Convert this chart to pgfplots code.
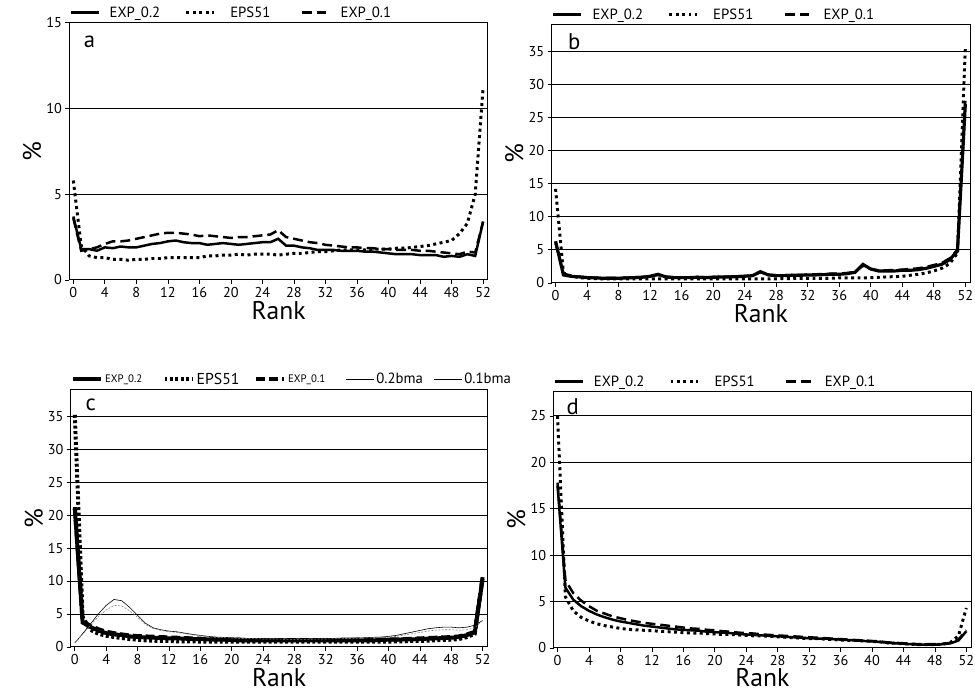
\documentclass[border=0pt]{standalone}
\usepackage{pgfplots}
\pgfplotsset{compat=1.18}
\usepackage{fontspec}
\setmainfont{PT Sans}
\begin{document}
\tikzset{
  sol/.style={black, solid, line width=2.5bp},
  dot/.style={black, line width=3bp, dash pattern=on 3bp off 3.5bp},
  das/.style={black, line width=2.5bp, dash pattern=on 10bp off 5bp},
}
\newcommand{\legA}[1]{\makebox[74bp][l]{#1}}
\newcommand{\legC}[1]{\makebox[56bp][l]{#1}}
\pgfplotsset{
  panel/.style={
    scale only axis, xmin=-0.5, xmax=52.6, ymin=0,
    xtick={0,4,...,52}, tick pos=left, tick align=outside,
    major tick length=4bp,
    ymajorgrids, grid style={black, line width=0.9pt},
    axis line style={black, line width=0.9pt},
    tick style={black, line width=0.7pt},
    /pgf/number format/assume math mode=true,
    ticklabel style={font=\fontsize{14.5}{14.5}\selectfont},
    xlabel=Rank, ylabel=\%,
    label style={font=\fontsize{26}{26}\selectfont, inner sep=0pt},
    xlabel style={at={(axis description cs:0.5,-0.117)}, anchor=center},
    ylabel style={at={(axis description cs:-0.089,0.5)}, anchor=center},
    legend style={at={(axis description cs:0,1)}, anchor=south west, yshift=2bp,
      draw=none, fill=none, inner sep=0pt, font=\fontsize{15}{15}\selectfont,
      legend columns=-1,
      /tikz/every odd column/.append style={column sep=8bp},
      /tikz/every even column/.append style={column sep=0bp}},
    legend image code/.code={\draw[#1] (0bp,0bp) -- (28bp,0bp);},
  },
}
\begin{tikzpicture}
% ---------- a ----------
\begin{axis}[panel, at={(59.5bp,418bp)}, width=423bp, height=260bp, ymax=15, ytick={0,5,10,15}]
\addplot[sol] coordinates {(0,3.7)(1,1.8)(2,1.8)(3,1.7)(4,1.9)(5,1.85)(6,1.95)(7,1.9)(8,1.9)(9,2.0)(10,2.1)(11,2.15)(12,2.25)(13,2.3)(14,2.2)(15,2.15)(16,2.15)(17,2.05)(18,2.1)(19,2.15)(20,2.1)(21,2.05)(22,2.1)(23,2.15)(24,2.2)(25,2.2)(26,2.4)(27,2.0)(28,2.0)(29,1.9)(30,1.85)(31,1.75)(32,1.75)(33,1.75)(34,1.7)(35,1.7)(36,1.7)(37,1.65)(38,1.65)(39,1.6)(40,1.55)(41,1.5)(42,1.5)(43,1.5)(44,1.45)(45,1.45)(46,1.45)(47,1.35)(48,1.4)(49,1.35)(50,1.5)(51,1.4)(52,3.4)};
\addlegendentry{\legA{EXP\_0.2}}
\addplot[dot] coordinates {(0,5.8)(1,2.0)(2,1.4)(3,1.3)(4,1.3)(5,1.2)(6,1.2)(7,1.15)(8,1.2)(9,1.2)(10,1.25)(11,1.25)(12,1.3)(13,1.3)(14,1.3)(15,1.3)(16,1.3)(17,1.4)(18,1.4)(19,1.45)(20,1.45)(21,1.5)(22,1.45)(23,1.5)(24,1.5)(25,1.5)(26,1.45)(27,1.5)(28,1.55)(29,1.55)(30,1.6)(31,1.65)(32,1.65)(33,1.7)(34,1.75)(35,1.75)(36,1.75)(37,1.75)(38,1.8)(39,1.8)(40,1.8)(41,1.85)(42,1.85)(43,1.9)(44,1.95)(45,2.0)(46,2.1)(47,2.2)(48,2.3)(49,2.7)(50,3.3)(51,5.0)(52,11.2)};
\addlegendentry{\legA{\hspace{5bp}EPS51}}
\addplot[das] coordinates {(0,3.6)(1,1.7)(2,1.8)(3,1.9)(4,2.1)(5,2.25)(6,2.25)(7,2.3)(8,2.4)(9,2.5)(10,2.6)(11,2.7)(12,2.75)(13,2.75)(14,2.7)(15,2.65)(16,2.55)(17,2.6)(18,2.55)(19,2.5)(20,2.45)(21,2.5)(22,2.5)(23,2.55)(24,2.6)(25,2.65)(26,2.9)(27,2.5)(28,2.4)(29,2.3)(30,2.2)(31,2.15)(32,2.05)(33,2.0)(34,1.95)(35,1.9)(36,1.9)(37,1.85)(38,1.85)(39,1.8)(40,1.8)(41,1.75)(42,1.75)(43,1.75)(44,1.7)(45,1.7)(46,1.65)(47,1.6)(48,1.55)(49,1.5)(50,1.65)(51,1.6)(52,3.4)};
\addlegendentry{EXP\_0.1}
\node[font=\fontsize{23}{23}\selectfont] at (rel axis cs:0.048,0.927) {a};
\end{axis}
% ---------- b ----------
\begin{axis}[panel, at={(547bp,415bp)}, width=423bp, height=261bp, ymax=39, ytick={0,5,...,35}]
\addplot[sol, line width=3.2bp] coordinates {(0,6.3)(1,1.2)(2,1.0)(3,0.9)(4,0.8)(5,0.75)(6,0.7)(7,0.7)(8,0.7)(9,0.75)(10,0.8)(11,0.85)(12,1.0)(13,1.3)(14,0.9)(15,0.8)(16,0.8)(17,0.8)(18,0.85)(19,0.8)(20,0.85)(21,0.9)(22,0.9)(23,0.95)(24,1.0)(25,1.1)(26,1.7)(27,1.2)(28,1.1)(29,1.1)(30,1.15)(31,1.15)(32,1.2)(33,1.2)(34,1.25)(35,1.3)(36,1.3)(37,1.4)(38,1.6)(39,2.8)(40,2.1)(41,1.8)(42,1.8)(43,1.8)(44,1.9)(45,1.9)(46,2.0)(47,2.2)(48,2.5)(49,2.8)(50,3.5)(51,4.8)(52,27)};
\addlegendentry{\legA{EXP\_0.2}}
\addplot[dot] coordinates {(0,14.2)(1,1.5)(2,1.0)(3,0.8)(4,0.7)(5,0.65)(6,0.6)(7,0.6)(8,0.6)(9,0.6)(10,0.6)(11,0.6)(12,0.6)(13,0.6)(14,0.6)(15,0.6)(16,0.6)(17,0.6)(18,0.6)(19,0.6)(20,0.6)(21,0.6)(22,0.6)(23,0.6)(24,0.6)(25,0.6)(26,0.6)(27,0.6)(28,0.62)(29,0.64)(30,0.65)(31,0.7)(32,0.7)(33,0.7)(34,0.7)(35,0.7)(36,0.75)(37,0.75)(38,0.75)(39,0.75)(40,0.8)(41,0.85)(42,0.9)(43,0.95)(44,1.0)(45,1.15)(46,1.3)(47,1.5)(48,1.8)(49,2.2)(50,2.9)(51,4.5)(52,35.5)};
\addlegendentry{\legA{\hspace{5bp}EPS51}}
\addplot[das] coordinates {(0,6.0)(1,1.4)(2,1.1)(3,0.95)(4,0.85)(5,0.8)(6,0.75)(7,0.75)(8,0.75)(9,0.8)(10,0.85)(11,0.9)(12,1.0)(13,1.2)(14,0.95)(15,0.85)(16,0.85)(17,0.85)(18,0.9)(19,0.85)(20,0.9)(21,0.95)(22,0.95)(23,1.0)(24,1.05)(25,1.15)(26,1.6)(27,1.25)(28,1.15)(29,1.15)(30,1.2)(31,1.2)(32,1.25)(33,1.3)(34,1.35)(35,1.4)(36,1.4)(37,1.5)(38,1.65)(39,2.6)(40,2.1)(41,1.9)(42,1.9)(43,1.95)(44,2.0)(45,2.1)(46,2.2)(47,2.4)(48,2.7)(49,3.0)(50,3.7)(51,5.0)(52,27.5)};
\addlegendentry{EXP\_0.1}
\node[font=\fontsize{23}{23}\selectfont] at (rel axis cs:0.054,0.935) {b};
\end{axis}
% ---------- c ----------
\begin{axis}[panel, at={(61bp,47bp)}, width=421bp, height=260bp, ymax=39, ytick={0,5,...,35},
  legend style={/tikz/every odd column/.append style={column sep=0.5bp}, /tikz/every even column/.append style={column sep=0bp}}]
\addplot[sol, line width=4bp] coordinates {(0,21)(1,3.7)(2,3.0)(3,2.5)(4,2.1)(5,1.9)(6,1.8)(7,1.6)(8,1.5)(9,1.45)(10,1.4)(11,1.35)(12,1.3)(13,1.3)(14,1.25)(15,1.2)(16,1.2)(17,1.15)(18,1.1)(19,1.1)(20,1.05)(21,1.0)(22,1.0)(23,1.0)(24,1.0)(25,1.0)(26,1.0)(27,1.0)(28,1.0)(29,1.0)(30,1.0)(31,1.0)(32,1.0)(33,1.0)(34,1.0)(35,1.0)(36,1.0)(37,1.0)(38,1.0)(39,1.05)(40,1.1)(41,1.1)(42,1.15)(43,1.15)(44,1.2)(45,1.25)(46,1.3)(47,1.35)(48,1.4)(49,1.5)(50,1.8)(51,2.2)(52,10.3)};
\addlegendentry{\legC{\fontsize{11}{11}\selectfont EXP\_0.2}}
\addplot[dot, line width=4bp, dash pattern=on 3bp off 2.5bp] coordinates {(0,35.2)(1,4.5)(2,2.6)(3,2.0)(4,1.7)(5,1.5)(6,1.35)(7,1.2)(8,1.1)(9,1.0)(10,0.95)(11,0.9)(12,0.9)(13,0.85)(14,0.85)(15,0.85)(16,0.8)(17,0.8)(18,0.8)(19,0.8)(20,0.8)(21,0.8)(22,0.8)(23,0.8)(24,0.8)(25,0.8)(26,0.8)(27,0.8)(28,0.8)(29,0.8)(30,0.8)(31,0.8)(32,0.8)(33,0.8)(34,0.8)(35,0.8)(36,0.8)(37,0.8)(38,0.8)(39,0.8)(40,0.8)(41,0.85)(42,0.85)(43,0.9)(44,0.9)(45,0.95)(46,1.0)(47,1.05)(48,1.1)(49,1.2)(50,1.5)(51,2.0)(52,10.6)};
\addlegendentry{\legC{\fontsize{16}{16}\selectfont EPS51}}
\addplot[das, line width=4bp, dash pattern=on 9bp off 4bp] coordinates {(0,21.2)(1,3.9)(2,3.2)(3,2.7)(4,2.3)(5,2.1)(6,1.9)(7,1.75)(8,1.65)(9,1.6)(10,1.55)(11,1.5)(12,1.45)(13,1.4)(14,1.35)(15,1.3)(16,1.25)(17,1.2)(18,1.2)(19,1.15)(20,1.1)(21,1.1)(22,1.05)(23,1.05)(24,1.05)(25,1.05)(26,1.05)(27,1.05)(28,1.05)(29,1.05)(30,1.05)(31,1.05)(32,1.05)(33,1.05)(34,1.05)(35,1.05)(36,1.1)(37,1.1)(38,1.1)(39,1.1)(40,1.15)(41,1.15)(42,1.2)(43,1.25)(44,1.3)(45,1.35)(46,1.4)(47,1.45)(48,1.5)(49,1.6)(50,1.9)(51,2.3)(52,10.5)};
\addlegendentry{\legC{\fontsize{11}{11}\selectfont EXP\_0.1}}
\addplot[black, line width=0.6bp] coordinates {(0,0.6)(1,2.0)(2,3.5)(3,5.0)(4,6.3)(5,7.2)(6,7.0)(7,6.0)(8,4.8)(9,3.6)(10,2.9)(11,2.6)(12,2.4)(13,2.3)(14,2.1)(15,1.9)(16,1.75)(17,1.6)(18,1.5)(19,1.45)(20,1.4)(21,1.35)(22,1.3)(23,1.3)(24,1.25)(25,1.25)(26,1.2)(27,1.2)(28,1.2)(29,1.2)(30,1.2)(31,1.25)(32,1.3)(33,1.3)(34,1.35)(35,1.35)(36,1.35)(37,1.4)(38,1.45)(39,1.5)(40,1.6)(41,1.75)(42,2.0)(43,2.25)(44,2.5)(45,2.75)(46,2.9)(47,3.0)(48,3.0)(49,2.9)(50,3.0)(51,3.3)(52,4.0)};
\addlegendentry{\legC{0.2bma}}
\addplot[gray, line width=0.6bp, dash pattern=on 2bp off 1.5bp, legend image post style={black, solid}] coordinates {(0,0.6)(1,1.9)(2,3.3)(3,4.6)(4,5.6)(5,6.3)(6,6.2)(7,5.5)(8,4.5)(9,3.4)(10,2.8)(11,2.5)(12,2.3)(13,2.2)(14,2.0)(15,1.85)(16,1.7)(17,1.55)(18,1.45)(19,1.4)(20,1.35)(21,1.3)(22,1.25)(23,1.25)(24,1.2)(25,1.2)(26,1.2)(27,1.15)(28,1.15)(29,1.15)(30,1.15)(31,1.2)(32,1.2)(33,1.25)(34,1.25)(35,1.3)(36,1.3)(37,1.35)(38,1.4)(39,1.45)(40,1.5)(41,1.6)(42,1.8)(43,2.0)(44,2.2)(45,2.4)(46,2.55)(47,2.6)(48,2.6)(49,2.55)(50,2.6)(51,2.9)(52,4.0)};
\addlegendentry{0.1bma}
\node[font=\fontsize{23}{23}\selectfont] at (rel axis cs:0.048,0.942) {c};
\end{axis}
% ---------- d ----------
\begin{axis}[panel, at={(549bp,46bp)}, width=422bp, height=259bp, ymax=27.6, ytick={0,5,...,25}]
\addplot[sol] coordinates {(0,17.5)(1,6.5)(2,5.2)(3,4.5)(4,4.0)(5,3.6)(6,3.3)(7,3.05)(8,2.85)(9,2.7)(10,2.55)(11,2.4)(12,2.3)(13,2.2)(14,2.1)(15,2.0)(16,1.95)(17,1.9)(18,1.85)(19,1.75)(20,1.7)(21,1.65)(22,1.6)(23,1.5)(24,1.45)(25,1.4)(26,1.35)(27,1.3)(28,1.25)(29,1.2)(30,1.15)(31,1.1)(32,1.05)(33,1.0)(34,1.0)(35,0.95)(36,0.9)(37,0.85)(38,0.8)(39,0.75)(40,0.7)(41,0.65)(42,0.55)(43,0.5)(44,0.45)(45,0.4)(46,0.35)(47,0.35)(48,0.35)(49,0.4)(50,0.5)(51,0.8)(52,1.8)};
\addlegendentry{\legA{EXP\_0.2}}
\addplot[dot] coordinates {(0,25)(1,5.5)(2,4.0)(3,3.3)(4,2.9)(5,2.6)(6,2.4)(7,2.25)(8,2.1)(9,2.0)(10,1.95)(11,1.9)(12,1.85)(13,1.8)(14,1.75)(15,1.7)(16,1.65)(17,1.6)(18,1.6)(19,1.55)(20,1.5)(21,1.45)(22,1.45)(23,1.4)(24,1.35)(25,1.3)(26,1.3)(27,1.25)(28,1.2)(29,1.15)(30,1.1)(31,1.05)(32,1.0)(33,1.0)(34,0.95)(35,0.9)(36,0.85)(37,0.8)(38,0.8)(39,0.75)(40,0.7)(41,0.65)(42,0.55)(43,0.5)(44,0.45)(45,0.4)(46,0.35)(47,0.35)(48,0.35)(49,0.4)(50,0.6)(51,1.3)(52,4.3)};
\addlegendentry{\legA{\hspace{5bp}EPS51}}
\addplot[das] coordinates {(0,17.8)(1,7.3)(2,5.9)(3,5.1)(4,4.5)(5,4.0)(6,3.7)(7,3.4)(8,3.2)(9,3.0)(10,2.85)(11,2.7)(12,2.6)(13,2.5)(14,2.4)(15,2.3)(16,2.2)(17,2.1)(18,2.05)(19,1.95)(20,1.9)(21,1.8)(22,1.75)(23,1.65)(24,1.6)(25,1.55)(26,1.45)(27,1.4)(28,1.35)(29,1.3)(30,1.25)(31,1.2)(32,1.15)(33,1.1)(34,1.05)(35,1.0)(36,0.95)(37,0.9)(38,0.85)(39,0.8)(40,0.75)(41,0.7)(42,0.6)(43,0.55)(44,0.5)(45,0.45)(46,0.4)(47,0.4)(48,0.4)(49,0.45)(50,0.55)(51,0.9)(52,1.9)};
\addlegendentry{EXP\_0.1}
\node[font=\fontsize{23}{23}\selectfont] at (rel axis cs:0.046,0.942) {d};
\end{axis}
\pgfresetboundingbox
\path[use as bounding box] (0bp,0bp) rectangle (975bp,701bp);
\end{tikzpicture}
\end{document}
